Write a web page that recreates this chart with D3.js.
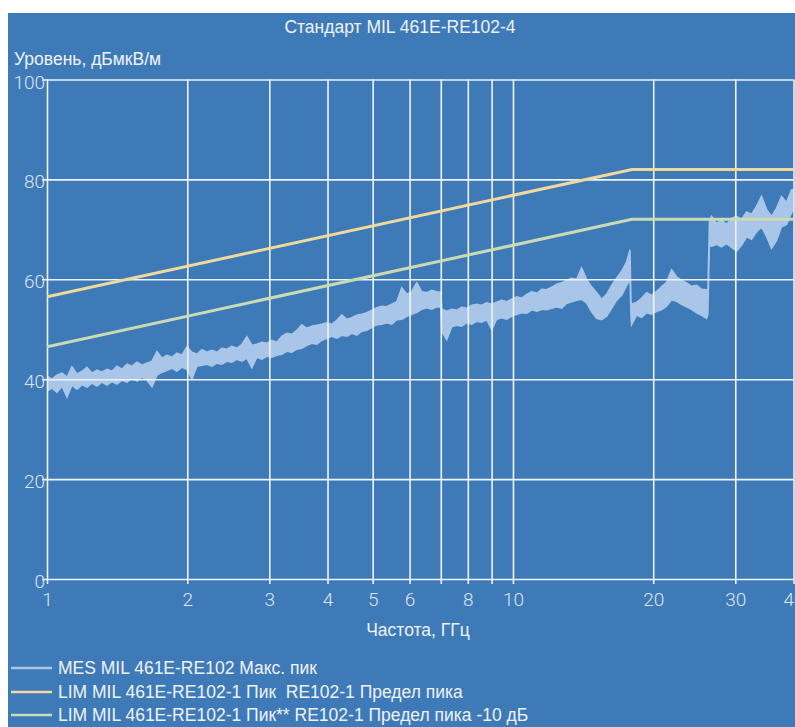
<!DOCTYPE html>
<html>
<head>
<meta charset="utf-8">
<script src="https://cdn.jsdelivr.net/npm/d3@7"></script>
<style>
  body { margin: 0; background: #fff; }
  svg { display: block; }
</style>
</head>
<body>
<svg id="chart" width="795" height="727"></svg>
<script>
// ticks / grid
const gridFreq = [1, 2, 3, 4, 5, 6, 7, 8, 9, 10, 20, 30, 40];
const labelFreq = [1, 2, 3, 4, 5, 6, 8, 10, 20, 30, 40];
const levelTicks = [0, 20, 40, 60, 80, 100];

// limit lines (GHz, dBuV/m)
const limitFreq = [1, 18, 40];
const limitPeak = [56.5, 82, 82];
const limitPeak10 = [46.5, 72, 72];

const traceFreq = [
  1.000, 1.025, 1.051, 1.077, 1.104, 1.131, 1.160, 1.189, 1.218, 1.249,
  1.280, 1.312, 1.345, 1.379, 1.413, 1.448, 1.485, 1.522, 1.560, 1.599,
  1.639, 1.680, 1.722, 1.765, 1.809, 1.854, 1.900, 1.948, 1.996, 2.046,
  2.098, 2.150, 2.204, 2.259, 2.315, 2.373, 2.433, 2.493, 2.556, 2.620,
  2.685, 2.752, 2.821, 2.892, 2.964, 3.038, 3.114, 3.192, 3.272, 3.353,
  3.437, 3.523, 3.611, 3.701, 3.794, 3.889, 3.986, 4.086, 4.188, 4.292,
  4.400, 4.510, 4.622, 4.738, 4.856, 4.978, 5.102, 5.230, 5.360, 5.494,
  5.632, 5.772, 5.917, 6.065, 6.216, 6.372, 6.531, 6.694, 6.861, 7.000,
  7.033, 7.209, 7.389, 7.574, 7.763, 7.957, 8.156, 8.360, 8.569, 8.783,
  9.003, 9.228, 9.459, 9.695, 9.938, 10.19, 10.44, 10.70, 10.97, 11.25,
  11.53, 11.81, 12.11, 12.41, 12.72, 13.04, 13.37, 13.70, 14.04, 14.39,
  14.75, 15.12, 15.50, 15.89, 16.28, 16.69, 17.11, 17.54, 17.83, 17.92,
  17.97, 18.42, 18.88, 19.36, 19.84, 20.34, 20.84, 21.36, 21.90, 22.45,
  23.01, 23.58, 24.17, 24.78, 25.40, 26.03, 26.20, 26.40, 26.68, 27.35,
  28.03, 28.73, 29.45, 30.19, 30.94, 31.72, 32.51, 33.32, 34.15, 35.01,
  35.88, 36.78, 37.70, 38.64, 39.61, 40.00
];
const traceHigh = [
  40.6, 40.0, 40.8, 41.2, 40.4, 42.5, 41.0, 41.6, 42.4, 41.2,
  41.8, 41.4, 42.0, 41.6, 42.6, 42.0, 43.0, 42.6, 43.4, 42.8,
  43.2, 43.6, 45.5, 44.2, 44.8, 44.4, 45.2, 44.8, 46.5, 45.4,
  45.0, 45.9, 45.4, 45.8, 45.4, 46.2, 46.0, 46.6, 46.2, 47.0,
  48.5, 46.8, 47.0, 47.4, 47.2, 47.8, 47.4, 48.6, 49.2, 49.0,
  49.8, 50.9, 50.2, 50.6, 50.8, 51.0, 51.3, 51.0, 51.8, 52.9,
  52.0, 52.3, 52.8, 53.0, 53.3, 53.8, 54.3, 54.6, 54.5, 55.0,
  55.5, 58.3, 57.0, 57.6, 59.3, 57.5, 57.3, 57.8, 57.5, 57.4,
  54.0, 53.6, 54.0, 53.8, 54.4, 54.2, 54.8, 55.0, 54.8, 55.3,
  55.0, 55.4, 55.8, 55.5, 56.0, 56.5, 56.2, 57.0, 57.5, 57.2,
  58.0, 57.9, 58.4, 59.0, 59.3, 59.8, 60.2, 60.0, 62.3, 60.0,
  58.5, 57.3, 56.0, 57.0, 58.8, 60.2, 61.6, 63.5, 65.9, 55.6,
  55.0, 55.4, 56.2, 57.3, 56.8, 57.6, 58.5, 59.4, 61.9, 60.5,
  59.8, 59.3, 58.6, 58.8, 58.0, 57.9, 57.6, 71.6, 72.6, 71.2,
  71.9, 71.0, 72.2, 72.6, 72.0, 73.5, 73.0, 74.6, 76.6, 74.0,
  72.6, 74.2, 76.6, 75.4, 77.9, 78.0
];
const traceLow = [
  37.6, 38.2, 37.4, 38.6, 36.4, 38.8, 38.0, 38.9, 38.4, 39.2,
  38.6, 39.4, 38.8, 39.5, 39.0, 39.8, 39.4, 40.2, 39.6, 40.4,
  39.8, 38.5, 40.8, 41.4, 41.8, 42.2, 41.6, 42.4, 42.0, 40.0,
  42.6, 42.8, 43.0, 42.6, 43.2, 43.0, 43.6, 43.4, 44.0, 43.6,
  44.2, 42.3, 44.4, 44.0, 44.6, 44.4, 44.8, 45.0, 45.6, 45.4,
  46.0, 46.2, 46.8, 47.2, 47.0, 47.8, 48.2, 48.6, 48.2, 48.8,
  48.6, 49.2, 48.8, 49.6, 49.8, 50.4, 50.9, 51.0, 51.3, 51.0,
  51.9, 52.0, 52.6, 53.0, 53.4, 54.0, 54.3, 54.0, 54.5, 54.4,
  49.6, 47.9, 50.5, 50.8, 50.6, 51.3, 51.0, 51.6, 51.4, 51.9,
  49.9, 52.0, 52.3, 52.0, 52.6, 53.0, 53.3, 53.2, 53.9, 53.6,
  54.0, 53.9, 54.2, 54.5, 54.2, 55.2, 55.5, 55.8, 56.0, 55.3,
  53.5, 52.2, 51.9, 52.6, 54.2, 55.8, 56.8, 58.8, 60.0, 52.6,
  50.9, 52.8, 52.4, 53.3, 53.0, 53.6, 53.9, 54.6, 55.9, 55.6,
  55.0, 54.5, 54.0, 53.3, 52.8, 52.2, 53.0, 66.9, 66.6, 67.0,
  66.5, 67.2, 66.4, 65.6, 66.8, 68.5, 68.0, 69.5, 70.5, 68.6,
  66.2, 67.8, 70.5, 71.0, 73.3, 73.8
];

const legendItems = [
  "MES MIL 461E-RE102 Макс. пик",
  "LIM MIL 461E-RE102-1 Пик  RE102-1 Предел пика",
  "LIM MIL 461E-RE102-1 Пик** RE102-1 Предел пика -10 дБ"
];
const legendColors = ["#a9c6e8", "#efd99c", "#c9dbb2"];

const svg = d3.select("#chart");
const W = 795, H = 727;
const mLeft = 47, mRight = 793.5, mTop = 79.5, mBottom = 579;
const bg = "#3f7ab8";
const ink = "#eef3f9";

svg.append("rect").attr("x", 8).attr("y", 13).attr("width", W - 8).attr("height", H - 13).attr("fill", bg);

const x = d3.scaleLog().domain([1, 40]).range([mLeft, mRight]);
const y = d3.scaleLinear().domain([0, 100]).range([mBottom, mTop]);

svg.append("defs").append("clipPath").attr("id", "plot")
  .append("rect").attr("x", mLeft).attr("y", mTop - 2).attr("width", mRight - mLeft).attr("height", mBottom - mTop + 2);

// trace
const band = traceFreq.map((f, i) => ({f: f, hi: traceHigh[i], lo: traceLow[i]}));
svg.append("path")
  .datum(band)
  .attr("clip-path", "url(#plot)")
  .attr("fill", legendColors[0])
  .attr("stroke", legendColors[0])
  .attr("stroke-width", 1.5)
  .attr("stroke-linejoin", "miter")
  .attr("d", d3.area().x(d => x(d.f)).y0(d => y(d.lo)).y1(d => y(d.hi)));

// grid + axes
const xAxis = d3.axisBottom(x)
  .tickValues(gridFreq)
  .tickSizeInner(-(mBottom - mTop))
  .tickSizeOuter(0)
  .tickPadding(14)
  .tickFormat(d => labelFreq.includes(d) ? d : "");
const gx = svg.append("g").attr("transform", `translate(0,${mBottom})`).call(xAxis);
gx.select(".domain").remove();
gx.selectAll(".tick line").attr("y1", 5).attr("stroke", ink).attr("stroke-width", 1.6);

const yAxis = d3.axisLeft(y)
  .tickValues(levelTicks)
  .tickSizeInner(-(mRight - mLeft))
  .tickSizeOuter(0)
  .tickPadding(2)
  .tickFormat(d3.format("d"));
const gy = svg.append("g").attr("transform", `translate(${mLeft},0)`).call(yAxis);
gy.select(".domain").remove();
gy.selectAll(".tick line").attr("x1", -5).attr("stroke", ink).attr("stroke-width", 1.6);

svg.selectAll(".tick text")
  .attr("fill", "#dbe5f1")
  .attr("font-family", "Roboto, 'Liberation Sans', sans-serif")
  .attr("font-weight", 300)
  .attr("font-size", 19);
gy.selectAll(".tick text").attr("dy", "0.45em");

// limit lines
const lim = d3.line().x((d, i) => x(limitFreq[i])).y(d => y(d));
svg.append("path").datum(limitPeak10).attr("clip-path", "url(#plot)")
  .attr("fill", "none").attr("stroke", legendColors[2]).attr("stroke-width", 3).attr("d", lim);
svg.append("path").datum(limitPeak).attr("clip-path", "url(#plot)")
  .attr("fill", "none").attr("stroke", legendColors[1]).attr("stroke-width", 3).attr("d", lim);

// texts
const font = "'Liberation Sans', Arial, sans-serif";
const fs = 17.5;
svg.append("text").attr("x", 400).attr("y", 33).attr("text-anchor", "middle")
  .attr("fill", ink).attr("font-family", font).attr("font-size", fs)
  .text("Стандарт MIL 461E-RE102-4");
svg.append("text").attr("x", 14).attr("y", 65)
  .attr("fill", ink).attr("font-family", font).attr("font-size", fs)
  .text("Уровень, дБмкВ/м");
svg.append("text").attr("x", 418).attr("y", 636).attr("text-anchor", "middle")
  .attr("fill", ink).attr("font-family", font).attr("font-size", fs)
  .text("Частота, ГГц");

// legend
const legend = svg.append("g");
const legendY = [668, 692, 715];
legendItems.forEach((t, i) => {
  legend.append("line").attr("x1", 11).attr("x2", 52).attr("y1", legendY[i]).attr("y2", legendY[i])
    .attr("stroke", legendColors[i]).attr("stroke-width", 2.5);
  legend.append("text").attr("x", 58).attr("y", legendY[i] + 6)
    .attr("fill", ink).attr("font-family", font).attr("font-size", fs)
    .attr("xml:space", "preserve")
    .text(t);
});
</script>
</body>
</html>
